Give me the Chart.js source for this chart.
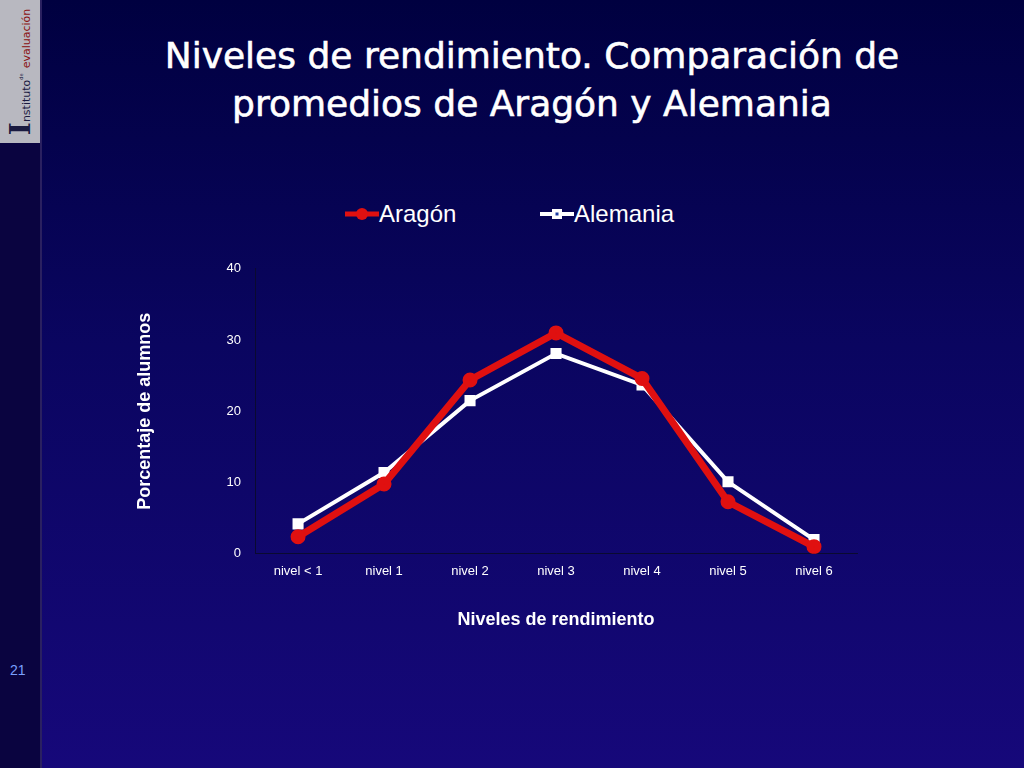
<!DOCTYPE html>
<html><head><meta charset="utf-8">
<script src="https://cdn.jsdelivr.net/npm/chart.js@4"></script>
<style>
html,body{margin:0;padding:0;}
body{width:1024px;height:768px;overflow:hidden;position:relative;background:linear-gradient(#000040 0%,#0a0560 45%,#16087a 100%);font-family:"Liberation Sans",Arial,sans-serif;}
#strip{position:absolute;left:0;top:0;width:40px;height:768px;background:#0a0440;border-right:2px solid #2a2060;}
#logo{position:absolute;left:0;top:0;width:40px;height:143px;background:#b8b8c0;overflow:hidden;}
#logo div{position:absolute;left:50%;top:50%;transform:translate(-50%,-50%) rotate(-90deg);white-space:nowrap;font-family:"DejaVu Sans",sans-serif;}
#num{position:absolute;left:10px;top:662px;color:#7aa0ff;font-size:14px;}
#title{position:absolute;left:80px;width:904px;top:32px;text-align:center;color:#fff;font-family:"DejaVu Sans",sans-serif;font-size:36px;line-height:48px;-webkit-text-stroke:0.6px #fff;}
#legend{position:absolute;top:200px;left:345px;color:#fff;font-size:24px;display:flex;gap:0;}
.li{display:flex;align-items:center;width:195px;}
#chartbox{position:absolute;left:117px;top:247px;width:763px;height:388px;}
</style></head><body>
<div id="strip"></div>
<div id="logo"><div><b style="font-size:28px;color:#1a1a40;font-family:'DejaVu Serif',serif">I</b><span style="font-size:11px;color:#1a1a40">nstituto</span><sup style="font-size:5px;color:#1a1a40">de</sup> <span style="font-size:11px;color:#8a1010">evaluación</span></div></div>
<div id="num">21</div>
<div id="title">Niveles de rendimiento. Comparación de<br>promedios de Aragón y Alemania</div>
<div id="legend">
<div class="li"><svg width="34" height="20"><line x1="0" y1="10" x2="34" y2="10" stroke="#e01010" stroke-width="5"/><circle cx="17" cy="10" r="6" fill="#e01010"/></svg><span>Aragón</span></div>
<div class="li"><svg width="34" height="20"><line x1="0" y1="10" x2="34" y2="10" stroke="#fff" stroke-width="4"/><rect x="12" y="5" width="10" height="10" fill="#fff"/><rect x="15.5" y="8.5" width="3" height="3" fill="#1a3aa0"/></svg><span>Alemania</span></div>
</div>
<div id="chartbox"><canvas id="c"></canvas></div>
<script>
const categories=["nivel < 1","nivel 1","nivel 2","nivel 3","nivel 4","nivel 5","nivel 6"];
const aragon=[2.4,9.8,24.4,31.0,24.6,7.3,1.0];
const alemania=[4.2,11.4,21.5,28.1,23.7,10.1,2.0];
const yTicks=[0,10,20,30,40];
new Chart(document.getElementById('c'),{type:'line',
data:{labels:categories,datasets:[
{label:'Aragón',data:aragon,borderColor:'#e01010',backgroundColor:'#e01010',borderWidth:7,pointRadius:4,pointStyle:'circle',tension:0},
{label:'Alemania',data:alemania,borderColor:'#ffffff',backgroundColor:'#ffffff',borderWidth:4,pointRadius:5,pointStyle:'rect',tension:0}]},
options:{responsive:true,maintainAspectRatio:false,animation:false,
layout:{padding:{left:13,right:23,top:10,bottom:0}},
plugins:{legend:{display:false},tooltip:{enabled:false}},
scales:{
x:{offset:true,grid:{display:false,drawTicks:false},border:{color:'#0a0a30'},ticks:{color:'#fff',font:{size:13,family:'Liberation Sans'},padding:10},
 title:{display:true,text:'Niveles de rendimiento',color:'#fff',font:{size:18,weight:'bold',family:'Liberation Sans'},padding:{top:20}}},
y:{min:0,max:40,afterBuildTicks:a=>{a.ticks=yTicks.map(v=>({value:v}));},grid:{display:false,drawTicks:false},border:{color:'#0a0a30'},
 ticks:{color:'#fff',font:{size:13,family:'Liberation Sans'},padding:14},
 title:{display:true,text:'Porcentaje de alumnos',color:'#fff',font:{size:18,weight:'bold',family:'Liberation Sans'},padding:{bottom:57}}}}}});
</script></body></html>
